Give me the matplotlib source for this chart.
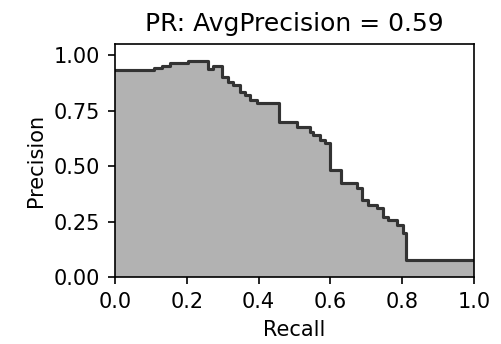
import numpy as np
import matplotlib
matplotlib.use('Agg')
from matplotlib import pyplot as plt

# recall / precision (recall increasing)
recall = [0.000, 0.108, 0.130, 0.153, 0.203, 0.259, 0.273, 0.298, 0.315, 0.330,
          0.348, 0.362, 0.376, 0.395, 0.457, 0.507, 0.543, 0.552, 0.571, 0.585,
          0.599, 0.630, 0.674, 0.688, 0.705, 0.730, 0.746, 0.760, 0.785, 0.802,
          0.810, 1.000]
precision = [0.932, 0.940, 0.952, 0.963, 0.973, 0.937, 0.950, 0.902, 0.880, 0.865,
             0.835, 0.820, 0.797, 0.782, 0.700, 0.677, 0.655, 0.640, 0.617, 0.602,
             0.482, 0.422, 0.400, 0.347, 0.324, 0.310, 0.272, 0.257, 0.234, 0.198,
             0.077, 0.077]
avg_precision = 0.59

fig = plt.figure(figsize=(501/150, 344/150), dpi=150)
ax = fig.add_axes([115/501, 1-277/344, 359/501, 233/344])

ax.step(recall, precision, color='#333333', where='post', lw=1.5)
ax.fill_between(recall, precision, step='post', alpha=0.3, color='k', lw=0)

ax.set_xlabel('Recall')
ax.set_ylabel('Precision')
ax.set_ylim([0.0, 1.05])
ax.set_xlim([0.0, 1.0])
ax.set_title('PR: AvgPrecision = {0:0.2f}'.format(avg_precision))

fig.savefig('out.png', dpi=150)
